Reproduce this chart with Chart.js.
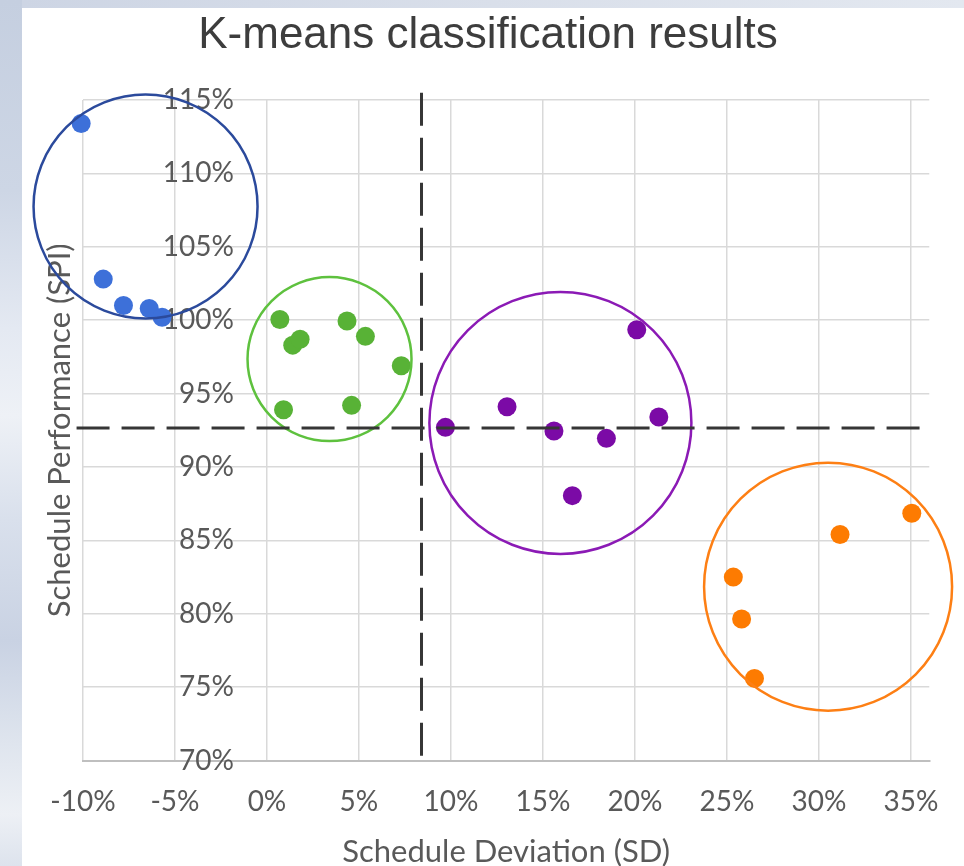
<!DOCTYPE html>
<html>
<head>
<meta charset="utf-8">
<script src="https://cdn.jsdelivr.net/npm/chart.js@4.4.1/dist/chart.umd.min.js"></script>
<style>
html,body{margin:0;padding:0;width:964px;height:866px;overflow:hidden;background:#ffffff}
#bgl{position:absolute;left:0;top:0;width:22px;height:866px;
  background:linear-gradient(180deg,#c5cfe0 0%,#cdd6e5 22%,#e4e9f2 38%,#eef1f6 48%,#d9e0ec 60%,#c9d2e3 74%,#dfe5ee 86%,#edf0f5 94%,#dde3ed 100%)}
#bgt{position:absolute;left:22px;top:0;width:942px;height:8px;
  background:linear-gradient(90deg,#cdd5e4 0%,#d9dfea 50%,#e3e8f0 100%)}
#wrap{position:absolute;left:0;top:0;width:964px;height:866px}
</style>
</head>
<body>
<div id="bgl"></div>
<div id="bgt"></div>
<div id="wrap"><canvas id="c" width="964" height="866"></canvas></div>
<script>
// ---- data (values in percent) ----
const blueSD    = [-10.1, -8.9, -7.8, -6.4, -5.7];
const blueSPI   = [113.4, 102.8, 101.0, 100.8, 100.2];
const greenSD   = [0.7, 1.4, 1.8, 4.35, 5.35, 7.3, 0.9, 4.6];
const greenSPI  = [100.05, 98.3, 98.7, 99.95, 98.9, 96.9, 93.9, 94.2];
const purpleSD  = [9.7, 13.05, 15.6, 18.45, 16.6, 20.1, 21.3];
const purpleSPI = [92.7, 94.1, 92.45, 91.95, 88.05, 99.35, 93.4];
const orangeSD  = [25.35, 25.8, 26.5, 31.15, 35.05];
const orangeSPI = [82.5, 79.65, 75.6, 85.4, 86.85];

// cluster outline centres
const ringSD  = [-6.6, 3.4, 15.95, 30.5];
const ringSPI = [107.75, 97.35, 93.0, 81.85];

// dashed threshold lines
const sdThreshold  = 8.4;
const spiThreshold = 92.65;
const vLineSPI = [115.5, 70];
const hLineSD  = [-10.35, 35.8];

// axis ticks
const xTicks = [-10, -5, 0, 5, 10, 15, 20, 25, 30, 35];
const yTicks = [70, 75, 80, 85, 90, 95, 100, 105, 110, 115];

const pts = (xs, ys) => xs.map((x, i) => ({x: x, y: ys[i]}));

const pointColors = ['#3d70d9', '#58b236', '#7b0aa6', '#fd7b01'];
const ringColors  = ['#2b4a9c', '#5ec13e', '#8b1ab5', '#fd7f14'];
const ringRadius  = [112, 82, 131, 124];
const series = [pts(blueSD, blueSPI), pts(greenSD, greenSPI), pts(purpleSD, purpleSPI), pts(orangeSD, orangeSPI)];

const datasets = [];
datasets.push({
  label: 'SD threshold', data: vLineSPI.map(y => ({x: sdThreshold, y: y})),
  showLine: true, borderColor: '#363636', borderWidth: 3, borderDash: [33, 12],
  pointRadius: 0, clip: false, order: 0, yAxisID: 'y'
});
datasets.push({
  label: 'SPI threshold', data: hLineSD.map(x => ({x: x, y: spiThreshold})),
  showLine: true, borderColor: '#363636', borderWidth: 3, borderDash: [33, 12],
  pointRadius: 0, clip: false, order: 0, yAxisID: 'y'
});
ringSD.forEach((sd, i) => {
  datasets.push({
    label: 'ring ' + i, data: [{x: sd, y: ringSPI[i]}],
    pointRadius: ringRadius[i], pointHoverRadius: ringRadius[i],
    backgroundColor: 'rgba(0,0,0,0)', borderColor: ringColors[i], borderWidth: 2.5,
    clip: false, order: 1, yAxisID: 'y'
  });
});
series.forEach((d, i) => {
  datasets.push({
    label: 'cluster ' + i, data: d,
    pointRadius: 9.5, pointHoverRadius: 9.5, borderWidth: 0,
    backgroundColor: pointColors[i], borderColor: pointColors[i],
    clip: false, order: 2, yAxisID: 'y'
  });
});

const tickFont = {family: 'Lato', size: 28};

new Chart(document.getElementById('c'), {
  type: 'scatter',
  data: {datasets: datasets},
  options: {
    responsive: false,
    animation: false,
    devicePixelRatio: 1,
    events: [],
    layout: {autoPadding: false, padding: {left: 43, right: 31, top: 0, bottom: 0}},
    plugins: {
      legend: {display: false},
      tooltip: {enabled: false},
      title: {
        display: true, text: 'K-means classification results', color: '#3d3d3d',
        font: {family: 'Liberation Sans', size: 44, weight: 'normal', lineHeight: 1.2},
        padding: {top: 9, bottom: 38.2}
      }
    },
    scales: {
      x: {
        type: 'linear', position: 'bottom', min: xTicks[0], max: 36,
        afterBuildTicks: s => { s.ticks = xTicks.map(v => ({value: v})); },
        ticks: {padding: 25, color: '#595959', font: tickFont, maxRotation: 0, autoSkip: false,
                includeBounds: false, callback: v => v + '%'},
        grid: {color: '#d9d9d9', lineWidth: 1.5, drawTicks: false},
        border: {display: true, color: '#bfbfbf', width: 2},
        title: {display: true, text: 'Schedule Deviation (SD)', color: '#595959',
                font: {family: 'Lato', size: 31, lineHeight: 0.8},
                padding: {top: -5, bottom: 2}}
      },
      y: {
        type: 'linear', position: {x: -1.8}, min: yTicks[0], max: yTicks[yTicks.length - 1],
        afterBuildTicks: s => { s.ticks = yTicks.map(v => ({value: v})); },
        ticks: {color: '#595959', font: tickFont, padding: 0, callback: v => v + '%'},
        grid: {color: '#d9d9d9', lineWidth: 1.5, drawTicks: false},
        border: {display: false}
      },
      yt: {
        type: 'linear', axis: 'y', position: 'left', min: yTicks[0], max: yTicks[yTicks.length - 1],
        ticks: {display: false},
        grid: {display: false, drawTicks: false},
        border: {display: false},
        title: {display: true, text: 'Schedule Performance (SPI)', color: '#595959',
                font: {family: 'Lato', size: 31, lineHeight: 1},
                padding: {top: 1.5, bottom: 7.5}}
      }
    }
  }
});
</script>
</body>
</html>
